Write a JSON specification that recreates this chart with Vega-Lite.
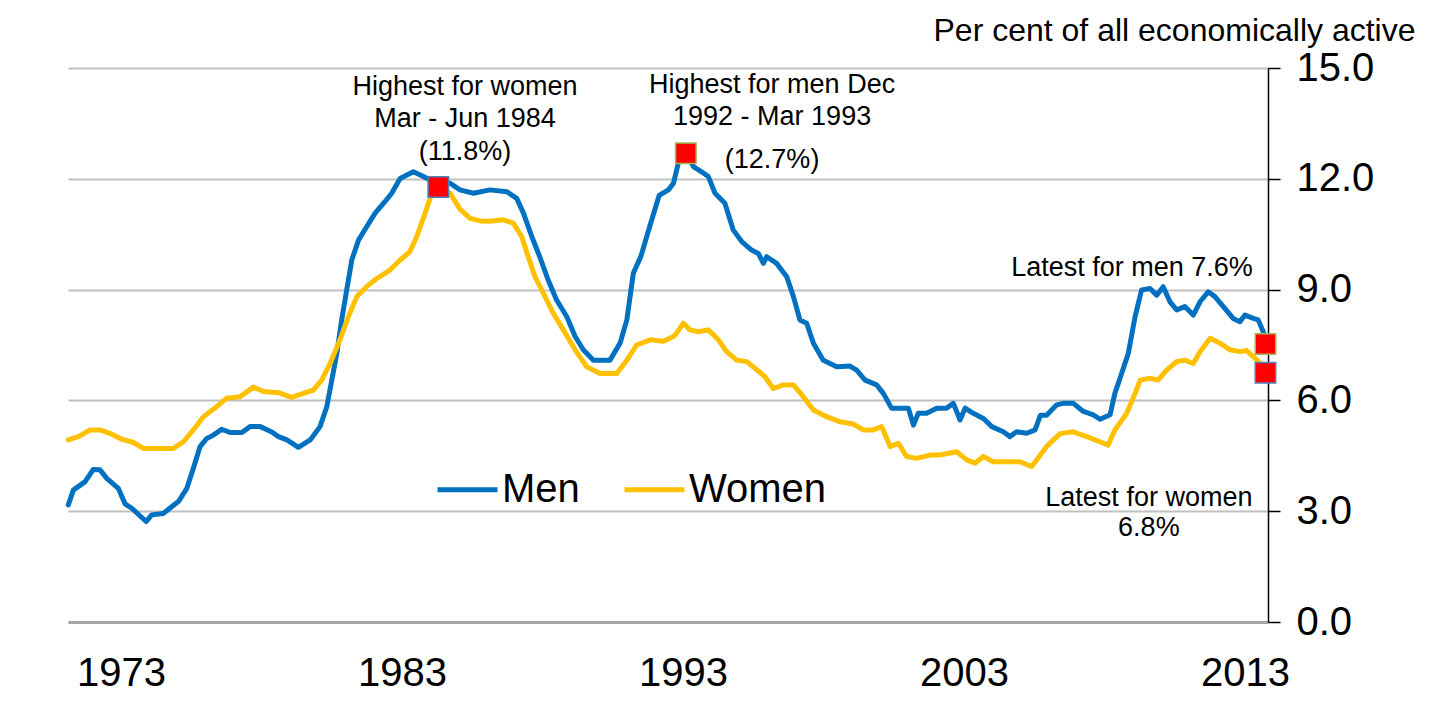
{
  "$schema": "https://vega.github.io/schema/vega-lite/v6.json",
  "autosize": {"type": "none"},
  "width": 1200,
  "height": 554,
  "padding": {"left": 68, "top": 68, "right": 165, "bottom": 95},
  "background": "#ffffff",
  "config": {
    "view": {"stroke": null},
    "font": "Liberation Sans"
  },
  "datasets": {
    "lines": [
      {"series":"Men","year":1971.12,"value":3.17},{"series":"Men","year":1971.3,"value":3.57},{"series":"Men","year":1971.72,"value":3.8},{"series":"Men","year":1972.01,"value":4.13},{"series":"Men","year":1972.25,"value":4.12},{"series":"Men","year":1972.49,"value":3.89},{"series":"Men","year":1972.9,"value":3.62},{"series":"Men","year":1973.14,"value":3.2},{"series":"Men","year":1973.38,"value":3.08},{"series":"Men","year":1973.68,"value":2.87},{"series":"Men","year":1973.89,"value":2.72},{"series":"Men","year":1974.09,"value":2.9},{"series":"Men","year":1974.5,"value":2.94},{"series":"Men","year":1974.8,"value":3.12},{"series":"Men","year":1975.04,"value":3.26},{"series":"Men","year":1975.34,"value":3.62},{"series":"Men","year":1975.57,"value":4.16},{"series":"Men","year":1975.81,"value":4.75},{"series":"Men","year":1976.05,"value":4.97},{"series":"Men","year":1976.28,"value":5.06},{"series":"Men","year":1976.58,"value":5.22},{"series":"Men","year":1976.88,"value":5.13},{"series":"Men","year":1977.3,"value":5.13},{"series":"Men","year":1977.59,"value":5.29},{"series":"Men","year":1977.95,"value":5.29},{"series":"Men","year":1978.35,"value":5.15},{"series":"Men","year":1978.6,"value":5.02},{"series":"Men","year":1978.9,"value":4.93},{"series":"Men","year":1979.31,"value":4.73},{"series":"Men","year":1979.73,"value":4.93},{"series":"Men","year":1980.08,"value":5.29},{"series":"Men","year":1980.32,"value":5.83},{"series":"Men","year":1980.5,"value":6.55},{"series":"Men","year":1980.68,"value":7.28},{"series":"Men","year":1980.85,"value":8.18},{"series":"Men","year":1981.03,"value":8.99},{"series":"Men","year":1981.21,"value":9.8},{"series":"Men","year":1981.45,"value":10.34},{"series":"Men","year":1981.74,"value":10.7},{"series":"Men","year":1982.04,"value":11.07},{"series":"Men","year":1982.39,"value":11.38},{"series":"Men","year":1982.63,"value":11.61},{"series":"Men","year":1982.93,"value":12.01},{"series":"Men","year":1983.4,"value":12.19},{"series":"Men","year":1983.76,"value":12.06},{"series":"Men","year":1984.12,"value":11.92},{"series":"Men","year":1984.71,"value":11.88},{"series":"Men","year":1985.06,"value":11.7},{"series":"Men","year":1985.54,"value":11.61},{"series":"Men","year":1986.13,"value":11.7},{"series":"Men","year":1986.73,"value":11.65},{"series":"Men","year":1987.08,"value":11.47},{"series":"Men","year":1987.32,"value":11.07},{"series":"Men","year":1987.62,"value":10.43},{"series":"Men","year":1987.9,"value":9.89},{"series":"Men","year":1988.2,"value":9.26},{"series":"Men","year":1988.5,"value":8.72},{"series":"Men","year":1988.86,"value":8.27},{"series":"Men","year":1989.16,"value":7.73},{"series":"Men","year":1989.45,"value":7.37},{"series":"Men","year":1989.81,"value":7.09},{"series":"Men","year":1990.4,"value":7.09},{"series":"Men","year":1990.76,"value":7.55},{"series":"Men","year":1991.0,"value":8.18},{"series":"Men","year":1991.23,"value":9.44},{"series":"Men","year":1991.5,"value":9.9},{"series":"Men","year":1991.83,"value":10.75},{"series":"Men","year":1992.15,"value":11.55},{"series":"Men","year":1992.48,"value":11.7},{"series":"Men","year":1992.66,"value":11.88},{"series":"Men","year":1992.83,"value":12.42},{"series":"Men","year":1993.1,"value":12.69},{"series":"Men","year":1993.37,"value":12.33},{"series":"Men","year":1993.66,"value":12.19},{"series":"Men","year":1993.9,"value":12.06},{"series":"Men","year":1994.14,"value":11.61},{"series":"Men","year":1994.49,"value":11.34},{"series":"Men","year":1994.79,"value":10.61},{"series":"Men","year":1995.09,"value":10.3},{"series":"Men","year":1995.44,"value":10.07},{"series":"Men","year":1995.68,"value":9.98},{"series":"Men","year":1995.86,"value":9.71},{"series":"Men","year":1995.98,"value":9.89},{"series":"Men","year":1996.33,"value":9.71},{"series":"Men","year":1996.69,"value":9.35},{"series":"Men","year":1996.93,"value":8.81},{"series":"Men","year":1997.16,"value":8.18},{"series":"Men","year":1997.4,"value":8.09},{"series":"Men","year":1997.64,"value":7.55},{"series":"Men","year":1997.99,"value":7.09},{"series":"Men","year":1998.47,"value":6.91},{"series":"Men","year":1998.94,"value":6.93},{"series":"Men","year":1999.18,"value":6.82},{"series":"Men","year":1999.48,"value":6.55},{"series":"Men","year":1999.89,"value":6.42},{"series":"Men","year":2000.13,"value":6.19},{"series":"Men","year":2000.42,"value":5.79},{"series":"Men","year":2000.78,"value":5.79},{"series":"Men","year":2001.02,"value":5.79},{"series":"Men","year":2001.2,"value":5.33},{"series":"Men","year":2001.37,"value":5.65},{"series":"Men","year":2001.67,"value":5.65},{"series":"Men","year":2002.03,"value":5.79},{"series":"Men","year":2002.38,"value":5.79},{"series":"Men","year":2002.62,"value":5.92},{"series":"Men","year":2002.86,"value":5.47},{"series":"Men","year":2003.04,"value":5.79},{"series":"Men","year":2003.33,"value":5.65},{"series":"Men","year":2003.69,"value":5.51},{"series":"Men","year":2003.99,"value":5.29},{"series":"Men","year":2004.4,"value":5.15},{"series":"Men","year":2004.64,"value":5.02},{"series":"Men","year":2004.87,"value":5.15},{"series":"Men","year":2005.23,"value":5.11},{"series":"Men","year":2005.53,"value":5.2},{"series":"Men","year":2005.72,"value":5.6},{"series":"Men","year":2005.94,"value":5.6},{"series":"Men","year":2006.3,"value":5.88},{"series":"Men","year":2006.53,"value":5.92},{"series":"Men","year":2006.89,"value":5.92},{"series":"Men","year":2007.25,"value":5.7},{"series":"Men","year":2007.6,"value":5.61},{"series":"Men","year":2007.84,"value":5.49},{"series":"Men","year":2008.2,"value":5.61},{"series":"Men","year":2008.37,"value":6.19},{"series":"Men","year":2008.61,"value":6.73},{"series":"Men","year":2008.85,"value":7.28},{"series":"Men","year":2009.09,"value":8.27},{"series":"Men","year":2009.32,"value":8.99},{"series":"Men","year":2009.62,"value":9.03},{"series":"Men","year":2009.86,"value":8.85},{"series":"Men","year":2010.09,"value":9.08},{"series":"Men","year":2010.33,"value":8.67},{"series":"Men","year":2010.57,"value":8.45},{"series":"Men","year":2010.86,"value":8.54},{"series":"Men","year":2011.16,"value":8.31},{"series":"Men","year":2011.4,"value":8.67},{"series":"Men","year":2011.69,"value":8.94},{"series":"Men","year":2011.93,"value":8.81},{"series":"Men","year":2012.23,"value":8.54},{"series":"Men","year":2012.58,"value":8.22},{"series":"Men","year":2012.82,"value":8.13},{"series":"Men","year":2013.0,"value":8.31},{"series":"Men","year":2013.3,"value":8.22},{"series":"Men","year":2013.47,"value":8.18},{"series":"Men","year":2013.65,"value":7.86},{"series":"Men","year":2013.73,"value":7.55},
      {"series":"Women","year":1971.12,"value":4.93},{"series":"Women","year":1971.48,"value":5.02},{"series":"Women","year":1971.9,"value":5.2},{"series":"Women","year":1972.25,"value":5.2},{"series":"Women","year":1972.6,"value":5.11},{"series":"Women","year":1973.02,"value":4.95},{"series":"Women","year":1973.44,"value":4.86},{"series":"Women","year":1973.79,"value":4.7},{"series":"Women","year":1974.27,"value":4.7},{"series":"Women","year":1974.86,"value":4.7},{"series":"Women","year":1975.22,"value":4.88},{"series":"Women","year":1975.57,"value":5.2},{"series":"Women","year":1975.93,"value":5.56},{"series":"Women","year":1976.4,"value":5.83},{"series":"Women","year":1976.76,"value":6.06},{"series":"Women","year":1977.23,"value":6.1},{"series":"Women","year":1977.71,"value":6.36},{"series":"Women","year":1978.06,"value":6.24},{"series":"Women","year":1978.6,"value":6.21},{"series":"Women","year":1979.07,"value":6.08},{"series":"Women","year":1979.49,"value":6.19},{"series":"Women","year":1979.84,"value":6.28},{"series":"Women","year":1980.14,"value":6.55},{"series":"Women","year":1980.44,"value":7.0},{"series":"Women","year":1980.79,"value":7.64},{"series":"Women","year":1981.09,"value":8.27},{"series":"Women","year":1981.39,"value":8.81},{"series":"Women","year":1981.74,"value":9.08},{"series":"Women","year":1982.1,"value":9.3},{"series":"Women","year":1982.57,"value":9.53},{"series":"Women","year":1982.93,"value":9.8},{"series":"Women","year":1983.28,"value":10.03},{"series":"Women","year":1983.52,"value":10.43},{"series":"Women","year":1983.82,"value":11.07},{"series":"Women","year":1984.06,"value":11.61},{"series":"Women","year":1984.29,"value":11.78},{"series":"Women","year":1984.71,"value":11.61},{"series":"Women","year":1985.06,"value":11.18},{"series":"Women","year":1985.42,"value":10.93},{"series":"Women","year":1985.78,"value":10.86},{"series":"Women","year":1986.13,"value":10.85},{"series":"Women","year":1986.6,"value":10.89},{"series":"Women","year":1986.96,"value":10.8},{"series":"Women","year":1987.26,"value":10.43},{"series":"Women","year":1987.49,"value":9.89},{"series":"Women","year":1987.73,"value":9.35},{"series":"Women","year":1988.03,"value":8.9},{"series":"Women","year":1988.38,"value":8.36},{"series":"Women","year":1988.74,"value":7.91},{"series":"Women","year":1989.16,"value":7.37},{"series":"Women","year":1989.57,"value":6.91},{"series":"Women","year":1990.05,"value":6.73},{"series":"Women","year":1990.64,"value":6.73},{"series":"Women","year":1991.0,"value":7.09},{"series":"Women","year":1991.35,"value":7.5},{"series":"Women","year":1991.83,"value":7.64},{"series":"Women","year":1992.3,"value":7.6},{"series":"Women","year":1992.66,"value":7.73},{"series":"Women","year":1992.77,"value":7.82},{"series":"Women","year":1993.01,"value":8.09},{"series":"Women","year":1993.25,"value":7.91},{"series":"Women","year":1993.54,"value":7.86},{"series":"Women","year":1993.9,"value":7.91},{"series":"Women","year":1994.26,"value":7.64},{"series":"Women","year":1994.55,"value":7.32},{"series":"Women","year":1994.91,"value":7.09},{"series":"Women","year":1995.27,"value":7.05},{"series":"Women","year":1995.56,"value":6.87},{"series":"Women","year":1995.92,"value":6.64},{"series":"Women","year":1996.21,"value":6.32},{"series":"Women","year":1996.57,"value":6.42},{"series":"Women","year":1996.93,"value":6.42},{"series":"Women","year":1997.28,"value":6.1},{"series":"Women","year":1997.64,"value":5.74},{"series":"Women","year":1998.11,"value":5.56},{"series":"Women","year":1998.59,"value":5.42},{"series":"Women","year":1999.06,"value":5.36},{"series":"Women","year":1999.42,"value":5.2},{"series":"Women","year":1999.77,"value":5.2},{"series":"Women","year":2000.07,"value":5.29},{"series":"Women","year":2000.37,"value":4.75},{"series":"Women","year":2000.66,"value":4.84},{"series":"Women","year":2000.96,"value":4.48},{"series":"Women","year":2001.31,"value":4.43},{"series":"Women","year":2001.79,"value":4.52},{"series":"Women","year":2002.14,"value":4.52},{"series":"Women","year":2002.74,"value":4.61},{"series":"Women","year":2003.1,"value":4.39},{"series":"Women","year":2003.39,"value":4.3},{"series":"Women","year":2003.69,"value":4.48},{"series":"Women","year":2004.04,"value":4.34},{"series":"Women","year":2004.52,"value":4.34},{"series":"Women","year":2004.99,"value":4.34},{"series":"Women","year":2005.41,"value":4.21},{"series":"Women","year":2005.7,"value":4.5},{"series":"Women","year":2005.94,"value":4.75},{"series":"Women","year":2006.06,"value":4.84},{"series":"Women","year":2006.42,"value":5.1},{"series":"Women","year":2006.89,"value":5.15},{"series":"Women","year":2007.37,"value":5.02},{"series":"Women","year":2007.84,"value":4.88},{"series":"Women","year":2008.13,"value":4.79},{"series":"Women","year":2008.37,"value":5.2},{"series":"Women","year":2008.79,"value":5.65},{"series":"Women","year":2009.09,"value":6.19},{"series":"Women","year":2009.27,"value":6.55},{"series":"Women","year":2009.62,"value":6.6},{"series":"Women","year":2009.91,"value":6.55},{"series":"Women","year":2010.21,"value":6.82},{"series":"Women","year":2010.57,"value":7.05},{"series":"Women","year":2010.86,"value":7.09},{"series":"Women","year":2011.16,"value":7.0},{"series":"Women","year":2011.4,"value":7.32},{"series":"Women","year":2011.76,"value":7.68},{"series":"Women","year":2012.11,"value":7.55},{"series":"Women","year":2012.47,"value":7.37},{"series":"Women","year":2012.82,"value":7.32},{"series":"Women","year":2013.06,"value":7.35},{"series":"Women","year":2013.36,"value":7.14},{"series":"Women","year":2013.54,"value":7.0},{"series":"Women","year":2013.73,"value":6.75}
    ],
    "markers": [
      {"series":"Women","year":1984.29,"value":11.78},
      {"series":"Men","year":1993.1,"value":12.69},
      {"series":"Men","year":2013.73,"value":7.53},
      {"series":"Women","year":2013.73,"value":6.75}
    ],
    "notes": [
      {"year":1985.24,"value":14.49,"label":"Highest for women"},
      {"year":1985.24,"value":13.62,"label":"Mar - Jun 1984"},
      {"year":1985.24,"value":12.73,"label":"(11.8%)"},
      {"year":1996.17,"value":14.54,"label":"Highest for men Dec"},
      {"year":1996.17,"value":13.67,"label":"1992 - Mar 1993"},
      {"year":1996.17,"value":12.51,"label":"(12.7%)"},
      {"year":2008.98,"value":9.59,"label":"Latest for men 7.6%"},
      {"year":2009.58,"value":3.36,"label":"Latest for women"},
      {"year":2009.58,"value":2.55,"label":"6.8%"}
    ]
  },
  "layer": [
    {
      "data": {"name": "lines"},
      "mark": {"type": "line", "strokeWidth": 5, "strokeJoin": "round", "strokeCap": "round"},
      "encoding": {
        "x": {
          "field": "year", "type": "quantitative",
          "scale": {"domain": [1971.11, 2013.82], "nice": false, "zero": false},
          "axis": {
            "values": [1973, 1983, 1993, 2003, 2013], "format": "d", "title": null,
            "grid": false, "ticks": false, "tickSize": 0,
            "domainColor": "#A6A6A6", "domainWidth": 3,
            "labelFontSize": 40, "labelFont": "Liberation Sans", "labelColor": "#000000",
            "labelPadding": 31, "labelFlush": false, "labelOverlap": false, "labelBound": false
          }
        },
        "y": {
          "field": "value", "type": "quantitative",
          "scale": {"domain": [0, 15], "nice": false},
          "axis": {
            "orient": "right", "values": [0, 3, 6, 9, 12, 15], "format": ".1f",
            "grid": true, "gridColor": "#C0C0C0", "gridWidth": 2,
            "domainColor": "#000000", "domainWidth": 1.5,
            "tickColor": "#000000", "tickSize": 12, "tickWidth": 1.5,
            "labelFontSize": 40, "labelFont": "Liberation Sans", "labelColor": "#000000",
            "labelPadding": 16, "labelAlign": "left", "labelBaseline": "middle",
            "labelFlush": false, "labelOverlap": false, "labelBound": false,
            "title": "Per cent of all economically active",
            "titleAngle": 0, "titleX": 147, "titleY": -28,
            "titleAlign": "right", "titleBaseline": "alphabetic",
            "titleFontSize": 32, "titleFontWeight": "normal", "titleFont": "Liberation Sans", "titleColor": "#000000"
          }
        },
        "color": {
          "field": "series", "type": "nominal",
          "scale": {"domain": ["Men", "Women"], "range": ["#0070C0", "#FFC000"]},
          "legend": {
            "orient": "none", "legendX": 367, "legendY": 389, "direction": "horizontal",
            "title": null, "symbolType": "stroke", "symbolStrokeWidth": 5, "symbolSize": 3600,
            "labelFontSize": 40, "labelFont": "Liberation Sans", "labelColor": "#000000",
            "labelOffset": 2, "columnPadding": 34, "padding": 0
          }
        }
      }
    },
    {
      "data": {"name": "markers"},
      "mark": {"type": "point", "shape": "square", "filled": true, "size": 420, "fill": "#FF0000", "strokeWidth": 1.5, "opacity": 1},
      "encoding": {
        "x": {"field": "year", "type": "quantitative"},
        "y": {"field": "value", "type": "quantitative"},
        "stroke": {
          "field": "series", "type": "nominal",
          "scale": {"domain": ["Men", "Women"], "range": ["#9BBB59", "#4F81BD"]},
          "legend": null
        }
      }
    },
    {
      "data": {"name": "notes"},
      "mark": {"type": "text", "fontSize": 27, "font": "Liberation Sans", "color": "#000000", "align": "center", "baseline": "middle"},
      "encoding": {
        "x": {"field": "year", "type": "quantitative"},
        "y": {"field": "value", "type": "quantitative"},
        "text": {"field": "label", "type": "nominal"}
      }
    }
  ]
}
